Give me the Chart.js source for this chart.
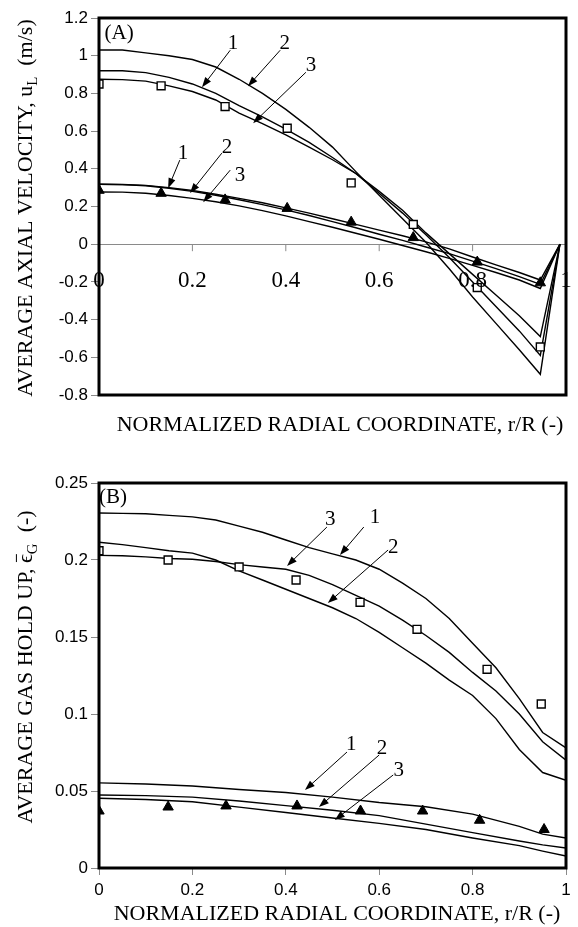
<!DOCTYPE html>
<html>
<head>
<meta charset="utf-8">
<script src="https://cdn.jsdelivr.net/npm/chart.js@4.4.1/dist/chart.umd.min.js"></script>
<style>
  html, body { margin: 0; padding: 0; background: #fff; }
  #wrap { position: relative; width: 578px; height: 927px; }
  canvas { position: absolute; left: 0; }
  #velChart { top: 0; width: 578px; height: 440px; }
  #holdChart { top: 440px; width: 578px; height: 487px; }
</style>
</head>
<body>
<div id="wrap">
  <canvas id="velChart" width="578" height="440"></canvas>
  <canvas id="holdChart" width="578" height="487"></canvas>
</div>
<script>
// ---- (A) average axial liquid velocity ----
const rVel = [0, 0.05, 0.1, 0.15, 0.2, 0.25, 0.3, 0.35, 0.4, 0.45, 0.5, 0.55, 0.6, 0.65, 0.7, 0.75, 0.8, 0.85, 0.9, 0.945, 0.987];
// high gas velocity case (squares)
const uHigh1 = [0.92, 0.92, 0.91, 0.885, 0.85, 0.8, 0.735, 0.675, 0.61, 0.54, 0.46, 0.375, 0.27, 0.165, 0.05, -0.07, -0.2, -0.33, -0.46, -0.59, 0];
const uHigh2 = [1.03, 1.03, 1.015, 1.0, 0.98, 0.94, 0.875, 0.8, 0.715, 0.62, 0.515, 0.385, 0.26, 0.135, 0.01, -0.13, -0.28, -0.42, -0.56, -0.69, 0];
const uHigh3 = [0.875, 0.873, 0.865, 0.84, 0.81, 0.765, 0.695, 0.64, 0.58, 0.515, 0.448, 0.375, 0.28, 0.18, 0.06, -0.05, -0.16, -0.27, -0.38, -0.49, 0];
// low gas velocity case (triangles)
const uLow1 = [0.318, 0.317, 0.312, 0.3, 0.285, 0.265, 0.243, 0.22, 0.193, 0.165, 0.135, 0.105, 0.075, 0.045, 0.012, -0.025, -0.068, -0.11, -0.15, -0.19, 0];
const uLow2 = [0.318, 0.316, 0.31, 0.297, 0.28, 0.26, 0.236, 0.21, 0.182, 0.152, 0.12, 0.087, 0.053, 0.02, -0.015, -0.05, -0.09, -0.13, -0.172, -0.213, 0];
const uLow3 = [0.277, 0.276, 0.27, 0.258, 0.243, 0.225, 0.203, 0.178, 0.15, 0.12, 0.09, 0.058, 0.026, -0.007, -0.04, -0.075, -0.112, -0.15, -0.19, -0.235, 0];
// measurements
const rVelPts = [0, 0.133, 0.27, 0.403, 0.54, 0.673, 0.81, 0.945];
const uHighPts = [0.85, 0.84, 0.73, 0.615, 0.325, 0.105, -0.23, -0.545];
const uLowPts = [0.286, 0.27, 0.235, 0.19, 0.117, 0.035, -0.095, -0.205];
const velTicksX = [0, 0.2, 0.4, 0.6, 0.8, 1];

// ---- (B) average gas hold up ----
const rHold = [0, 0.05, 0.1, 0.15, 0.2, 0.25, 0.3, 0.35, 0.4, 0.45, 0.5, 0.55, 0.6, 0.65, 0.7, 0.75, 0.8, 0.85, 0.9, 0.95, 1];
const gHigh1 = [0.2305, 0.2303, 0.23, 0.229, 0.228, 0.226, 0.222, 0.218, 0.213, 0.208, 0.204, 0.2, 0.194, 0.185, 0.175, 0.162, 0.146, 0.13, 0.11, 0.088, 0.078];
const gHigh2 = [0.2115, 0.21, 0.208, 0.206, 0.2045, 0.2, 0.193, 0.187, 0.181, 0.175, 0.169, 0.162, 0.153, 0.143, 0.133, 0.122, 0.112, 0.097, 0.077, 0.062, 0.057];
const gHigh3 = [0.203, 0.2028, 0.202, 0.201, 0.2005, 0.199, 0.197, 0.1955, 0.194, 0.19, 0.184, 0.177, 0.17, 0.161, 0.151, 0.14, 0.127, 0.115, 0.1, 0.082, 0.07];
const rHoldLow = [0, 0.1, 0.2, 0.3, 0.4, 0.5, 0.6, 0.7, 0.8, 0.9, 0.95, 1];
const gLow1 = [0.0553, 0.0545, 0.0532, 0.051, 0.049, 0.046, 0.0425, 0.0398, 0.035, 0.027, 0.022, 0.0195];
const gLow2 = [0.0474, 0.047, 0.046, 0.0435, 0.0405, 0.0375, 0.034, 0.0285, 0.023, 0.0175, 0.015, 0.013];
const gLow3 = [0.0453, 0.0445, 0.043, 0.0395, 0.036, 0.0325, 0.029, 0.025, 0.0195, 0.0145, 0.011, 0.0078];
const rHoldSq = [0, 0.148, 0.3, 0.422, 0.559, 0.681, 0.831, 0.947];
const gSqPts = [0.206, 0.2, 0.1955, 0.187, 0.1725, 0.155, 0.129, 0.1065];
const rHoldTri = [0, 0.148, 0.272, 0.424, 0.56, 0.693, 0.815, 0.953];
const gTriPts = [0.037, 0.0396, 0.0403, 0.0403, 0.037, 0.037, 0.031, 0.025];

Chart.defaults.font.family = '"Liberation Sans", Arial, sans-serif';
Chart.defaults.color = '#000';

const SERIF = '"Liberation Serif", "Times New Roman", serif';
const GREY = '#8a8a8a';

function pts(xs, ys) {
  return xs.map((x, i) => ({ x: x, y: ys[i] }));
}

function curve(xs, ys) {
  return {
    data: pts(xs, ys), showLine: true, borderColor: '#000', borderWidth: 1.4,
    pointRadius: 0, tension: 0, fill: false
  };
}

function squares(xs, ys) {
  return {
    data: pts(xs, ys), showLine: false, pointStyle: 'rect', pointRadius: 5.6,
    pointBackgroundColor: '#fff', pointBorderColor: '#000', pointBorderWidth: 1.4
  };
}

function triangles(xs, ys) {
  return {
    data: pts(xs, ys), showLine: false, pointStyle: 'triangle', pointRadius: 6,
    pointBackgroundColor: '#000', pointBorderColor: '#000', pointBorderWidth: 1
  };
}

// text pieces with optional subscript / overbar
function drawRich(ctx, parts, size, cx, cy, angle) {
  ctx.save();
  ctx.translate(cx, cy);
  ctx.rotate(angle);
  ctx.textBaseline = 'alphabetic';
  ctx.textAlign = 'left';
  let total = 0;
  parts.forEach(p => {
    ctx.font = (p.sub ? size * 0.68 : size) + 'px ' + SERIF;
    p.w = ctx.measureText(p.t).width;
    total += p.w;
  });
  let x = -total / 2;
  const base = size * 0.33;
  parts.forEach(p => {
    const fs = p.sub ? size * 0.68 : size;
    ctx.font = fs + 'px ' + SERIF;
    ctx.fillText(p.t, x, p.sub ? base + size * 0.22 : base);
    if (p.bar) {
      ctx.lineWidth = 1;
      ctx.beginPath();
      ctx.moveTo(x + 1, base - size * 0.72);
      ctx.lineTo(x + p.w, base - size * 0.72);
      ctx.stroke();
    }
    x += p.w;
  });
  ctx.restore();
}

function arrow(ctx, x0, y0, x1, y1) {
  const a = Math.atan2(y1 - y0, x1 - x0);
  const c = Math.cos(a), s = Math.sin(a);
  const head = 10, half = 3.6;
  ctx.lineWidth = 1;
  ctx.beginPath();
  ctx.moveTo(x0, y0);
  ctx.lineTo(x1 - c * head * 0.7, y1 - s * head * 0.7);
  ctx.stroke();
  ctx.beginPath();
  ctx.moveTo(x1, y1);
  ctx.lineTo(x1 - head * c + half * s, y1 - head * s - half * c);
  ctx.lineTo(x1 - head * c - half * s, y1 - head * s + half * c);
  ctx.closePath();
  ctx.fill();
}

const decor = {
  id: 'decor',
  afterDraw(chart) {
    const o = chart.options.plugins.decor;
    const { ctx, chartArea: a } = chart;
    const xs = chart.scales.x, ys = chart.scales.y;
    ctx.save();
    ctx.fillStyle = '#000';
    ctx.strokeStyle = '#000';

    // x tick marks and labels sitting on the zero line
    if (o.zeroTicks) {
      const y0 = ys.getPixelForValue(0);
      ctx.strokeStyle = GREY;
      ctx.lineWidth = 1;
      o.zeroTicks.forEach(v => {
        const px = xs.getPixelForValue(v);
        ctx.beginPath();
        ctx.moveTo(px, y0);
        ctx.lineTo(px, y0 + 7);
        ctx.stroke();
      });
      ctx.fillStyle = '#000';
      ctx.font = '23px ' + SERIF;
      ctx.textAlign = 'center';
      ctx.textBaseline = 'middle';
      o.zeroTicks.forEach(v => {
        ctx.fillText(String(v), xs.getPixelForValue(v), y0 + 37);
      });
      ctx.strokeStyle = '#000';
    }

    // curve labels with arrows
    ctx.font = '21px ' + SERIF;
    ctx.textAlign = 'center';
    ctx.textBaseline = 'middle';
    o.notes.forEach(n => {
      ctx.fillText(n.t, xs.getPixelForValue(n.x), ys.getPixelForValue(n.y));
      arrow(ctx, xs.getPixelForValue(n.ax), ys.getPixelForValue(n.ay),
        xs.getPixelForValue(n.bx), ys.getPixelForValue(n.by));
    });
    ctx.textAlign = 'left';
    ctx.fillText(o.panel.t, xs.getPixelForValue(o.panel.x), ys.getPixelForValue(o.panel.y));

    // frame
    ctx.lineWidth = 3;
    ctx.strokeRect(a.left, a.top, a.right - a.left, a.bottom - a.top);

    // axis titles
    drawRich(ctx, o.xTitle, 22, o.xTitlePos[0], o.xTitlePos[1], 0);
    drawRich(ctx, o.yTitle, 22, o.yTitlePos[0], o.yTitlePos[1], -Math.PI / 2);
    ctx.restore();
  }
};

const xTitle = [{ t: 'NORMALIZED RADIAL COORDINATE, r/R (-)' }];
const fmt = v => String(parseFloat(v.toFixed(3)));

function baseOptions(yMin, yMax, yStep, xHeight, padTop, extra) {
  return {
    responsive: false,
    animation: false,
    events: [],
    layout: { padding: { top: padTop, right: 12, bottom: 0, left: 0 } },
    plugins: { legend: { display: false }, tooltip: { enabled: false }, decor: extra },
    scales: {
      x: {
        type: 'linear', min: 0, max: 1,
        afterFit(s) { s.height = xHeight; },
        border: { display: false },
        grid: { drawOnChartArea: false, tickLength: 7, tickColor: GREY, color: GREY },
        ticks: { stepSize: 0.2, maxRotation: 0, autoSkip: false, padding: 5, font: { size: 17 }, callback: fmt }
      },
      y: {
        type: 'linear', min: yMin, max: yMax,
        afterFit(s) { s.width = 99; },
        border: { display: false },
        grid: { drawOnChartArea: false, tickLength: 8, tickColor: GREY, color: GREY },
        ticks: { stepSize: yStep, padding: 3, font: { size: 17 }, callback: fmt }
      }
    }
  };
}

// ---- chart (A) ----
const velOpts = baseOptions(-0.8, 1.2, 0.2, 45, 18, {
  zeroTicks: velTicksX,
  panel: { t: '(A)', x: 0.012, y: 1.119 },
  notes: [
    { t: '1', x: 0.287, y: 1.066, ax: 0.281, ay: 1.029, bx: 0.2206, by: 0.833 },
    { t: '2', x: 0.398, y: 1.066, ax: 0.388, ay: 1.029, bx: 0.319, by: 0.838 },
    { t: '3', x: 0.454, y: 0.95, ax: 0.443, ay: 0.912, bx: 0.33, by: 0.642 },
    { t: '1', x: 0.18, y: 0.483, ax: 0.173, ay: 0.446, bx: 0.148, by: 0.297 },
    { t: '2', x: 0.274, y: 0.515, ax: 0.263, ay: 0.483, bx: 0.195, by: 0.271 },
    { t: '3', x: 0.302, y: 0.366, ax: 0.281, ay: 0.393, bx: 0.223, by: 0.223 }
  ],
  xTitle: xTitle,
  xTitlePos: [340, 424],
  yTitle: [{ t: 'AVERAGE AXIAL VELOCITY, u' }, { t: 'L', sub: true }, { t: '  (m/s)' }],
  yTitlePos: [25, 208]
});
velOpts.scales.x.ticks.display = false;
velOpts.scales.x.grid.display = false;
velOpts.scales.y.grid.drawOnChartArea = true;
velOpts.scales.y.grid.color = c => (c.tick && Math.abs(c.tick.value) < 1e-9 ? GREY : 'rgba(0,0,0,0)');

new Chart(document.getElementById('velChart'), {
  type: 'scatter',
  data: {
    datasets: [
      squares(rVelPts, uHighPts),
      triangles(rVelPts, uLowPts),
      curve(rVel, uHigh1), curve(rVel, uHigh2), curve(rVel, uHigh3),
      curve(rVel, uLow1), curve(rVel, uLow2), curve(rVel, uLow3)
    ]
  },
  options: velOpts,
  plugins: [decor]
});

// ---- chart (B) ----
const holdOpts = baseOptions(0, 0.25, 0.05, 59, 43, {
  panel: { t: '(B)', x: 0.0, y: 0.2403 },
  notes: [
    { t: '3', x: 0.495, y: 0.226, ax: 0.488, ay: 0.2214, bx: 0.4026, by: 0.1961 },
    { t: '1', x: 0.591, y: 0.2273, ax: 0.567, ay: 0.2214, bx: 0.516, by: 0.2032 },
    { t: '2', x: 0.63, y: 0.2084, ax: 0.619, ay: 0.2065, bx: 0.49, by: 0.172 },
    { t: '1', x: 0.54, y: 0.0799, ax: 0.531, ay: 0.0753, bx: 0.441, by: 0.0506 },
    { t: '2', x: 0.606, y: 0.0779, ax: 0.6, ay: 0.0734, bx: 0.471, by: 0.0396 },
    { t: '3', x: 0.642, y: 0.0636, ax: 0.63, ay: 0.0604, bx: 0.505, by: 0.0312 }
  ],
  xTitle: xTitle,
  xTitlePos: [337, 473],
  yTitle: [{ t: 'AVERAGE GAS HOLD UP, ' }, { t: '\u03F5', bar: true }, { t: 'G', sub: true }, { t: '  (-)' }],
  yTitlePos: [25, 227]
});

new Chart(document.getElementById('holdChart'), {
  type: 'scatter',
  data: {
    datasets: [
      squares(rHoldSq, gSqPts),
      triangles(rHoldTri, gTriPts),
      curve(rHold, gHigh1), curve(rHold, gHigh2), curve(rHold, gHigh3),
      curve(rHoldLow, gLow1), curve(rHoldLow, gLow2), curve(rHoldLow, gLow3)
    ]
  },
  options: holdOpts,
  plugins: [decor]
});
</script>
</body>
</html>
